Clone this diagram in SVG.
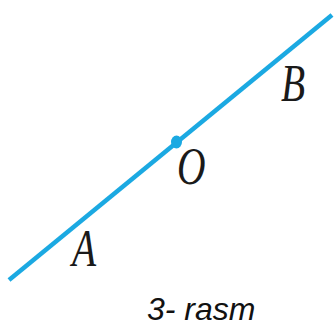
<svg xmlns="http://www.w3.org/2000/svg" width="334" height="329" viewBox="0 0 334 329">
<style>
.ln{stroke:#1ba9e2;stroke-width:4.5;stroke-linecap:butt;fill:none}
.pt{fill:#1ba9e2}
.lbl{font-family:"Liberation Serif","Times New Roman",serif;font-style:italic;font-size:52px;fill:#1a1a1a}
.cap{font-family:"Liberation Sans",Arial,sans-serif;font-style:italic;font-size:32px;fill:#111}
</style>
<rect width="334" height="329" fill="#fff"/>
<g id="connectors">
<line class="ln" x1="9" y1="280" x2="332" y2="15"/>
</g>
<g id="O"><ellipse class="pt" cx="176.5" cy="142" rx="5.5" ry="6.5"/><text class="lbl" transform="translate(177,184) scale(0.76,1)">O</text></g>
<g id="A"><text class="lbl" transform="translate(72,266) scale(0.76,1)">A</text></g>
<g id="B"><text class="lbl" transform="translate(281,101) scale(0.76,1)">B</text></g>
<g id="caption"><text class="cap" x="147" y="320">3- rasm</text></g>
</svg>
